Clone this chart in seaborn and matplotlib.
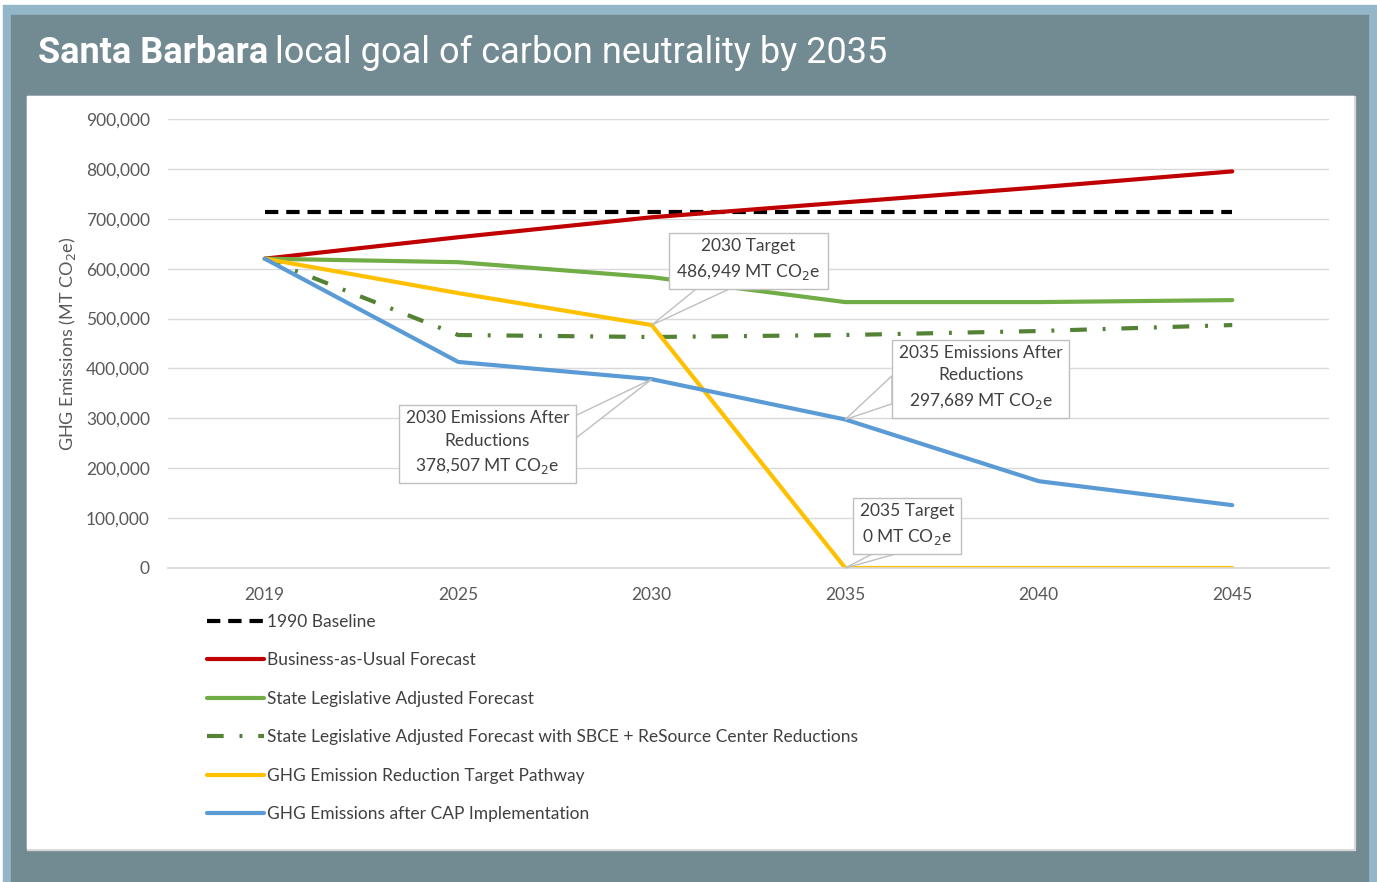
import numpy as np
import matplotlib.pyplot as plt
import seaborn as sns
import pandas as pd
from matplotlib.patches import Rectangle, Polygon
from matplotlib.lines import Line2D

years = ["2019", "2025", "2030", "2035", "2040", "2045"]
baseline_1990 = [713000, 713000, 713000, 713000, 713000, 713000]
bau = [620000, 663000, 703000, 733000, 763000, 795000]
state_adj = [620000, 613000, 583000, 533000, 533000, 537000]
state_sbce = [620000, 467000, 463000, 467000, 475000, 487000]
target_path = [620000, 551000, 486949, 0, 0, 0]
cap_impl = [620000, 413000, 378507, 297689, 174000, 126000]

labels = ["1990 Baseline", "Business-as-Usual Forecast", "State Legislative Adjusted Forecast",
          "State Legislative Adjusted Forecast with SBCE + ReSource Center Reductions",
          "GHG Emission Reduction Target Pathway", "GHG Emissions after CAP Implementation"]

sns.set_theme(style="white")
plt.rcParams['font.family'] = ['Lato', 'DejaVu Sans']

W, H = 1377, 882
fig = plt.figure(figsize=(W / 100, H / 100), dpi=100, facecolor="white")


def box(x0, y0, x1, y1, **kw):
    # pixel coords (top-left origin) -> figure rectangle
    fig.patches.append(Rectangle((x0 / W, 1 - y1 / H), (x1 - x0) / W, (y1 - y0) / H,
                                 transform=fig.transFigure, figure=fig, zorder=-5, **kw))


box(3, 5, W, H, color="#93b6c8")
box(11, 15, 1368, H, color="#728a91")
box(27, 96, 1355, 850, color="#d4d4d4")
box(27, 96, 1353, 848, color="white")

# title
t1 = fig.text(38 / W, 1 - 53 / H, "Santa Barbara", color="white", fontsize=26,
              fontweight="bold", family="Roboto", va="center", ha="left")
fig.canvas.draw()
bb = t1.get_window_extent()
fig.text(bb.x1 / W + 0.005, 1 - 53 / H, "local goal of carbon neutrality by 2035", color="white",
         fontsize=26, family="Roboto", va="center", ha="left")

ax = fig.add_axes([168 / W, 1 - 568 / H, (1329 - 168) / W, (568 - 119) / H])
ax.set_facecolor("none")

df = pd.DataFrame({"year": years, "baseline": baseline_1990, "bau": bau, "state": state_adj,
                   "sbce": state_sbce, "target": target_path, "cap": cap_impl})

styles = [
    ("baseline", "black", (0, (3.2, 1.9))),
    ("bau", "#c00000", "-"),
    ("state", "#70ad47", "-"),
    ("sbce", "#548235", (0, (4.0, 3.8, 0.7, 3.8))),
    ("target", "#ffc000", "-"),
    ("cap", "#5b9bd5", "-"),
]
handles = []
for col, c, ls in styles:
    sns.lineplot(data=df, x="year", y=col, ax=ax, color=c, linestyle=ls, linewidth=3, sort=False)
    handles.append(Line2D([], [], color=c, linestyle=ls, linewidth=3))

ax.set_xlim(-0.5, 5.5)
ax.set_ylim(0, 900000)
ax.set_yticks(np.arange(0, 900001, 100000))
ax.set_yticklabels([f"{v:,}" for v in range(0, 900001, 100000)])
ax.grid(axis="y", color="#d9d9d9", linewidth=1)
for s in ["top", "right", "left"]:
    ax.spines[s].set_visible(False)
ax.spines["bottom"].set_color("#d9d9d9")
ax.tick_params(axis="both", colors="#595959", labelsize=12.5, length=0, pad=14)
ax.tick_params(axis="y", pad=13)
ax.set_xlabel("")
ax.set_ylabel("GHG Emissions (MT CO$_2$e)", color="#595959", fontsize=13, labelpad=6)

# callouts: text, point, box centre, edge the pointer leaves from, span along that edge
notes = [
    ("2030 Target\n486,949 MT CO$_2$e", 2, target_path[2], 2.50, 617000, "bottom", 0.17, 0.38),
    ("2030 Emissions After\nReductions\n378,507 MT CO$_2$e", 2, cap_impl[2], 1.15, 250000, "right", 0.58, 0.87),
    ("2035 Emissions After\nReductions\n297,689 MT CO$_2$e", 3, cap_impl[3], 3.70, 381000, "left", 0.18, 0.54),
    ("2035 Target\n0 MT CO$_2$e", 3, target_path[3], 3.32, 86000, "bottom", 0.18, 0.40),
]
texts = []
for txt, xi, yi, tx, ty, edge, f0, f1 in notes:
    t = ax.text(tx, ty, txt, ha="center", va="center", fontsize=12.5, color="#404040",
                linespacing=1.5, zorder=6,
                bbox=dict(boxstyle="square,pad=0.4", fc="white", ec="#bfbfbf", lw=1))
    texts.append(t)

fig.canvas.draw()
inv = ax.transData.inverted()
for t, (txt, xi, yi, tx, ty, edge, f0, f1) in zip(texts, notes):
    e = t.get_bbox_patch().get_window_extent()
    if edge == "bottom":
        p0, p1 = (e.x0 + f0 * e.width, e.y0), (e.x0 + f1 * e.width, e.y0)
    elif edge == "right":
        p0, p1 = (e.x1, e.y0 + f0 * e.height), (e.x1, e.y0 + f1 * e.height)
    else:
        p0, p1 = (e.x0, e.y0 + f0 * e.height), (e.x0, e.y0 + f1 * e.height)
    tip = ax.transData.transform((xi, yi))
    pts = inv.transform([p0, tip, p1])
    ax.add_patch(Polygon(pts, closed=True, fc="white", ec="#bfbfbf", lw=1,
                         zorder=5, clip_on=False))

fig.legend(handles, labels, loc="upper left", bbox_to_anchor=(191 / W, 1 - 598 / H),
           frameon=False, fontsize=12.5, handlelength=3.3, handletextpad=0.15,
           labelspacing=1.3, labelcolor="#404040")

fig.savefig("out.png", dpi=100)
